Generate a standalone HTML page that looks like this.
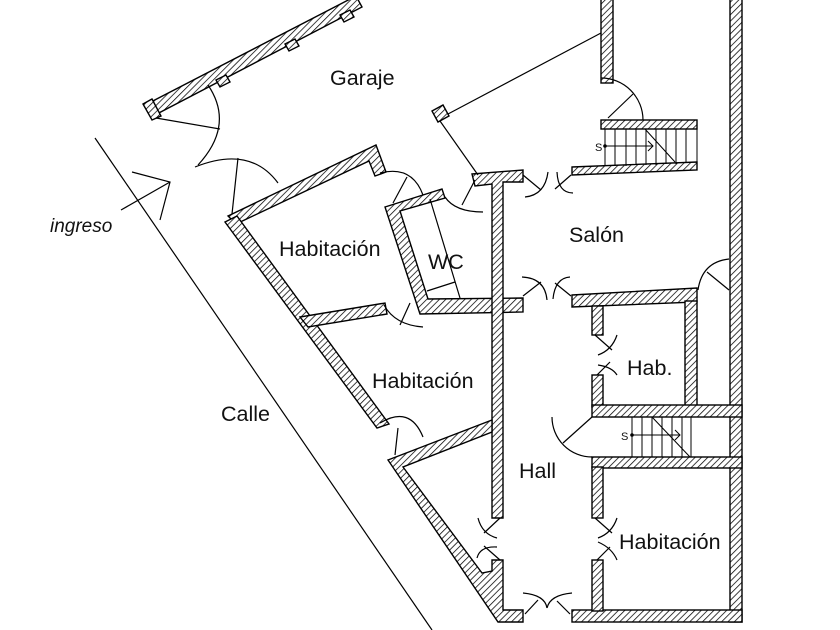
<!DOCTYPE html>
<html><head><meta charset="utf-8"><style>
html,body{margin:0;padding:0;background:#fff}
svg{display:block}
text{font-family:"Liberation Sans",Arial,sans-serif;font-size:21.5px;fill:#111}
</style></head><body>
<svg width="840" height="630" viewBox="0 0 840 630" xmlns="http://www.w3.org/2000/svg">
<defs>
<pattern id="h" width="4.5" height="4.5" patternUnits="userSpaceOnUse" patternTransform="rotate(45)">
<rect width="4.5" height="4.5" fill="#fff"/><line x1="0" y1="0" x2="0" y2="4.5" stroke="#000" stroke-width="1.5"/>
</pattern>
</defs>
<g fill="url(#h)" stroke="#000" stroke-width="1.4">
<polygon points="147,104 356,-4 362,7 153,116"/>
<polygon points="143,104 152,99 161,116 152,120"/>
<polygon points="216,80 226,75 230,82 220,87"/>
<polygon points="285,44 295,39 299,46 289,51"/>
<polygon points="340,15 350,10 354,17 344,22"/>
<polygon points="432,111 443,105 449,116 438,122"/>
<polygon points="228,216 376,145 386,172 375,176 369,161 236,224"/>
<polygon points="225,222 237,216 389,424 377,428"/>
<polygon points="300,317 385,303 387,314 308,327"/>
<polygon points="385,207 442,189 445,198 400,211 428,299 523,298 523,312 420,314"/>
<polygon points="472,174 523,170 523,182 503,182 503,518 492,518 492,184 475,186"/>
<polygon points="388,460 492,420 492,432 403,467 482,573 492,571 492,560 503,560 503,610 523,610 523,622 498,622"/>
<rect x="730" y="-2" width="12" height="624"/>
<rect x="572" y="610" width="170" height="12"/>
<rect x="601" y="-2" width="12" height="85"/>
<rect x="601" y="120" width="96" height="9"/>
<polygon points="572,167 697,162 697,170 572,175"/>
<polygon points="572,295 697,288 697,302 572,307"/>
<rect x="592" y="306" width="11" height="29"/>
<rect x="685" y="301" width="12" height="106"/>
<rect x="592" y="375" width="11" height="32"/>
<rect x="592" y="405" width="150" height="12"/>
<rect x="592" y="457" width="150" height="11"/>
<rect x="592" y="467" width="11" height="51"/>
<rect x="592" y="560" width="11" height="51"/>
</g>
<g fill="none" stroke="#000" stroke-width="1.2">
<line x1="95" y1="138" x2="432" y2="630"/>
<line x1="121" y1="210" x2="170" y2="182"/>
<polyline points="132,172 170,182 160,220"/>
<line x1="448" y1="114" x2="601" y2="33"/>
<line x1="440" y1="121" x2="478" y2="175"/>
<line x1="156" y1="118" x2="220" y2="129"/>
<path d="M208,85 Q235,125 198,165"/>
<line x1="232" y1="214" x2="238" y2="158"/>
<path d="M195,167 Q250,145 278,183"/>
<path d="M380,173 Q412,165 423,195"/>
<line x1="407" y1="177" x2="393" y2="203"/>
<path d="M445,197 Q455,212 483,212"/>
<line x1="475" y1="180" x2="462" y2="205"/>
<line x1="430" y1="199" x2="460" y2="298"/>
<line x1="427" y1="291" x2="455" y2="282"/>
<path d="M384,305 Q395,325 423,327"/>
<line x1="410" y1="303" x2="400" y2="325"/>
<line x1="398" y1="428" x2="395" y2="455"/>
<path d="M380,423 Q410,405 423,437"/>
<line x1="523" y1="175" x2="541" y2="190"/>
<path d="M525,197 Q545,195 548,172"/>
<line x1="571" y1="175" x2="555" y2="189"/>
<path d="M557,172 Q558,193 573,193"/>
<line x1="523" y1="296" x2="541" y2="282"/>
<path d="M522,277 Q545,278 547,300"/>
<line x1="571" y1="296" x2="555" y2="283"/>
<path d="M553,299 Q555,278 570,277"/>
<path d="M601,78 A42,42 0 0 1 643,120"/>
<line x1="608" y1="118" x2="633" y2="94"/>
<path d="M698,290 Q702,262 729,259"/>
<line x1="707" y1="272" x2="729" y2="290"/>
<g stroke-width="1">
<line x1="605" y1="129" x2="605" y2="166"/><line x1="615" y1="129" x2="615" y2="166"/>
<line x1="626" y1="129" x2="626" y2="166"/><line x1="636" y1="129" x2="636" y2="165"/>
<line x1="646" y1="129" x2="646" y2="165"/><line x1="656" y1="129" x2="656" y2="165"/>
<line x1="666" y1="129" x2="666" y2="164"/><line x1="676" y1="129" x2="676" y2="164"/>
<line x1="686" y1="129" x2="686" y2="163"/><line x1="697" y1="120" x2="697" y2="170"/>
<line x1="605" y1="146" x2="653" y2="146"/><polyline points="648,141 653,146 648,151"/>
<line x1="645" y1="129" x2="675" y2="162"/>
</g>
<line x1="595" y1="335" x2="612" y2="350"/>
<path d="M617,335 Q612,350 598,355"/>
<line x1="597" y1="375" x2="610" y2="362"/>
<path d="M598,365 Q612,367 617,375"/>
<path d="M552,417 A40,40 0 0 0 592,457"/>
<line x1="563" y1="443" x2="592" y2="417"/>
<g stroke-width="1">
<line x1="632" y1="417" x2="632" y2="457"/><line x1="642" y1="417" x2="642" y2="457"/>
<line x1="652" y1="417" x2="652" y2="457"/><line x1="662" y1="417" x2="662" y2="457"/>
<line x1="672" y1="417" x2="672" y2="457"/><line x1="682" y1="417" x2="682" y2="457"/>
<line x1="691" y1="417" x2="691" y2="457"/>
<line x1="632" y1="435" x2="680" y2="435"/><polyline points="675,430 680,435 675,440"/>
<line x1="652" y1="417" x2="690" y2="457"/>
</g>
<line x1="595" y1="518" x2="612" y2="533"/>
<path d="M617,518 Q612,533 598,538"/>
<line x1="597" y1="560" x2="610" y2="547"/>
<path d="M598,542 Q612,548 617,560"/>
<line x1="500" y1="518" x2="484" y2="533"/>
<path d="M478,518 Q482,534 497,538"/>
<line x1="500" y1="560" x2="484" y2="546"/>
<path d="M477,558 Q480,546 497,547"/>
<line x1="525" y1="614" x2="538" y2="600"/>
<path d="M523,593 Q545,595 547,608"/>
<line x1="570" y1="614" x2="557" y2="601"/>
<path d="M572,593 Q550,595 547,608"/>
</g>
<circle cx="605" cy="146" r="1.8"/>
<circle cx="632" cy="435" r="1.8"/>
<text x="595" y="151" style="font-size:11px">S</text>
<text x="621" y="440" style="font-size:11px">S</text>
<text x="330" y="85">Garaje</text>
<text x="279" y="256">Habitación</text>
<text x="428" y="269">WC</text>
<text x="569" y="242">Salón</text>
<text x="372" y="388">Habitación</text>
<text x="627" y="375">Hab.</text>
<text x="519" y="478">Hall</text>
<text x="619" y="549">Habitación</text>
<text x="221" y="421">Calle</text>
<text x="50" y="232" style="font-style:italic;font-size:19px">ingreso</text>
</svg>
</body></html>
